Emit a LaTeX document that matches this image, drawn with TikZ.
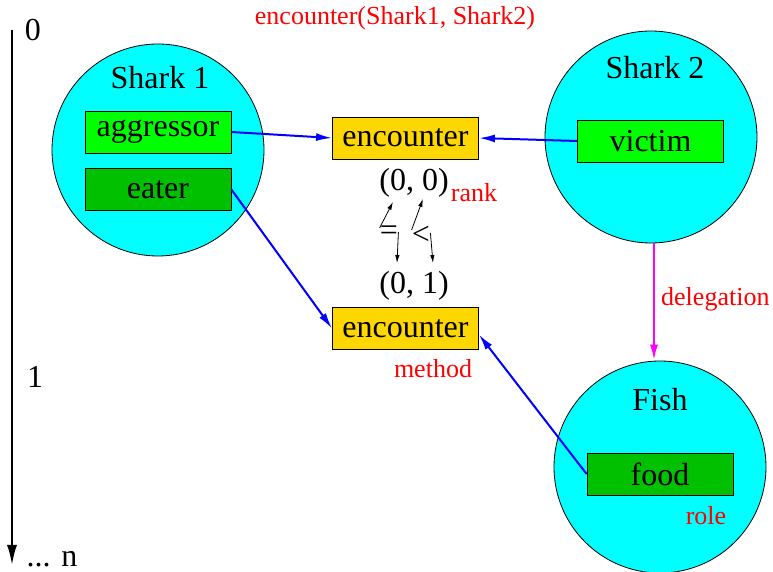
\documentclass[tikz,border=0pt]{standalone}
\usepackage{fontspec}
\setmainfont{Liberation Serif}
\newfontfamily\figfont{Liberation Serif}
\usepackage{tikz}
\usetikzlibrary{arrows.meta, calc, positioning, shapes}

\definecolor{seacyan}{HTML}{00FFFF}
\definecolor{rolegreen}{HTML}{00FF00}
\definecolor{rolegreendark}{HTML}{00C000}
\definecolor{methodgold}{HTML}{FFD700}
\definecolor{delegmagenta}{HTML}{FF00FF}
\definecolor{notered}{HTML}{FF0000}
\definecolor{linkblue}{HTML}{0000FF}

\begin{document}
\begin{tikzpicture}[x=0.5pt,y=-0.5pt,>=stealth,
    actor/.style={circle,draw,thin,fill=seacyan,minimum size=106pt,inner sep=0pt},
    rolebox/.style={draw,thin,fill=rolegreen,minimum width=73pt,minimum height=21pt,inner sep=0pt,font=\figfont\fontsize{16}{19}\selectfont},
    methodbox/.style={rolebox,fill=methodgold},
    big/.style={inner sep=0pt,font=\figfont\fontsize{16}{19}\selectfont},
    note/.style={inner sep=0pt,text=notered,font=\figfont\fontsize{13}{15}\selectfont},
    link/.style={linkblue,line width=1pt,-{Latex[length=8pt,width=4pt]}},
    rankarrow/.style={thin,-{Latex[length=4pt,width=2.2pt]}}]
    \useasboundingbox (0,0) rectangle (773,572);

    % time axis
    \coordinate (t0) at (12,30);
    \coordinate (tn) at (12,565);
    \draw[line width=1pt,-{Latex[length=10pt,width=5pt]}] (t0) -- (tn);
    \node[big] (lab0) at (33,30) {0};
    \node[big] (lab1) at (35,377) {1};
    \node[big] (labn) at (52,559) {... n};

    % title
    \node[note] (title) at (395,18) {encounter(Shark1, Shark2)};

    % actors
    \node[actor] (shark1) at (158,150) {};
    \node[actor] (shark2) at (651,137) {};
    \node[actor] (fish) at (660,467) {};
    \node[big] (shark1lab) at (160,78) {Shark 1};
    \node[big] (shark2lab) at (655,68) {Shark 2};
    \node[big] (fishlab) at (660,400) {Fish};

    % roles
    \node[rolebox] (aggressor) at (158,132) {aggressor};
    \node[rolebox,fill=rolegreendark] (eater) at (158,189.5) {eater};
    \node[rolebox] (victim) at (650.5,141) {victim};
    \node[rolebox,fill=rolegreendark] (food) at (660,474) {food};
    \node[note] (role) at (706,516) {role};

    % methods
    \node[methodbox] (enctop) at (405.5,138) {encounter};
    \node[methodbox] (encbot) at (405.5,328.5) {encounter};
    \node[note] (method) at (433,369) {method};

    % ranks
    \node[big] (rank00) at (414,183) {(0, 0)};
    \node[big] (rank01) at (414,286) {(0, 1)};
    \node[note] (rank) at (474,193) {rank};
    \node[big] (eq) at (389,233) {=};
    \node[big] (lt) at (421,235) {<};
    \draw[rankarrow] ([yshift=2.5pt]eq.west) -- ([xshift=-10.5pt,yshift=-2pt]rank00.south);
    \draw[rankarrow] ([yshift=2.5pt]lt.west) -- ([xshift=4.5pt,yshift=-0.5pt]rank00.south);
    \draw[rankarrow] ([yshift=0.5pt]eq.east) -- ([xshift=-8.5pt,yshift=4pt]rank01.north);
    \draw[rankarrow] ([yshift=1pt]lt.east) -- ([xshift=9.5pt,yshift=4pt]rank01.north);

    % links
    \draw[link] (aggressor.east) -- (enctop.west);
    \draw[link] (victim.west) -- (enctop.east);
    \draw[link] (eater.east) -- (encbot.west);
    \draw[link] (food.west) -- ([yshift=-3pt]encbot.east);
    \draw[delegmagenta,line width=1.2pt,-{Latex[length=8pt,width=4pt]}] ([xshift=1.5pt]shark2.south) -- ([xshift=1.5pt]shark2.south |- fish.north)
        node[note,right=3pt,pos=0.48] (deleg) {delegation};
\end{tikzpicture}
\end{document}
